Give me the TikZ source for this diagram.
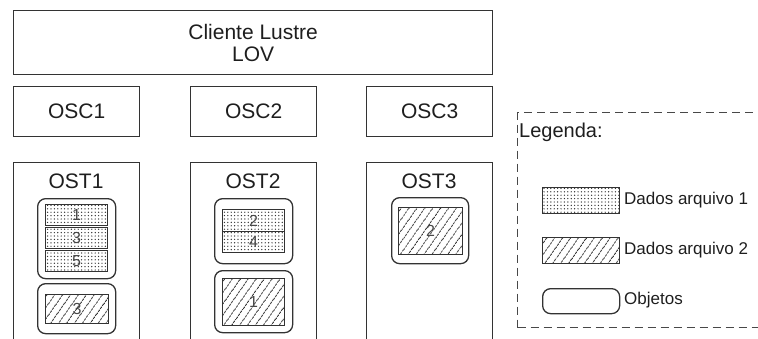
\documentclass[tikz,border=0pt]{standalone}
\usepackage{fontspec}
\setmainfont{Liberation Sans}
\usetikzlibrary{patterns.meta}
\definecolor{ln}{HTML}{333333}
\definecolor{tx}{HTML}{1E1E1E}
\definecolor{dg}{HTML}{484848}
\newcommand\bx[7]{\node[#2, anchor=north west, minimum width={(#5-#3)*1pt}, minimum height={(#6-#4)*1pt}] (#1) at (#3,#4) {#7};}
\begin{document}
\begin{tikzpicture}[x=1pt,y=-1pt,
  box/.style={draw=ln, line width=1.3pt, inner sep=0pt, text=tx, font=\fontsize{21}{22}\selectfont, align=center},
  obj/.style={draw=ln, line width=1.3pt, rounded corners=8pt, inner sep=0pt},
  dotbox/.style={draw=ln, line width=1.3pt, inner sep=0pt, text=dg, font=\fontsize{16}{16}\selectfont,
     pattern={Dots[distance=3.4pt, radius=0.7pt]}, pattern color=ln},
  hatchbox/.style={draw=ln, line width=1.3pt, inner sep=0pt, text=dg, font=\fontsize{16}{16}\selectfont,
     pattern={Lines[angle=55, distance=6.5pt, line width=1pt]}, pattern color=ln},
  lbl/.style={text=tx, inner sep=0pt, font=\fontsize{21}{22}\selectfont},
  leg/.style={text=tx, inner sep=0pt, anchor=west, font=\fontsize{17}{20}\selectfont},
  legt/.style={leg, font=\fontsize{20}{22}\selectfont},
  legbox/.style={draw=dg, line width=1pt, dash pattern=on 8pt off 5pt, inner sep=0pt}
]
\useasboundingbox (0,0) rectangle (758,338);
% client
\bx{lov}{box}{13}{10}{492}{74}{Cliente Lustre\\LOV}
% OSC
\bx{osc1}{box}{13}{86}{139}{136}{OSC1}
\bx{osc2}{box}{190}{86}{316}{136}{OSC2}
\bx{osc3}{box}{366}{86}{492}{136}{OSC3}
% OST
\bx{ost1}{box}{13}{162}{139}{360}{}
\bx{ost2}{box}{190}{162}{316}{360}{}
\bx{ost3}{box}{366}{162}{492}{360}{}
\node[lbl] (ost1l) at (76,181) {OST1};
\node[lbl] (ost2l) at (253,181) {OST2};
\node[lbl] (ost3l) at (429,181) {OST3};
% OST1 objects
\bx{o1a}{obj}{37}{198}{115}{278}{}
\bx{s11}{dotbox}{45}{204}{107}{225}{1}
\bx{s13}{dotbox}{45}{227}{107}{248}{3}
\bx{s15}{dotbox}{45}{250}{107}{271}{5}
\bx{o1b}{obj}{37}{283}{115}{333}{}
\bx{h13}{hatchbox}{45}{294}{108}{323}{3}
% OST2 objects
\bx{o2a}{obj}{214}{198}{292}{263}{}
\bx{s22}{dotbox}{222}{209}{284}{231}{2}
\bx{s24}{dotbox}{222}{231}{284}{252}{4}
\bx{o2b}{obj}{214}{270}{292}{332}{}
\bx{h21}{hatchbox}{222}{278}{284}{325}{1}
% OST3 objects
\bx{o3a}{obj}{391}{197}{468}{263}{}
\bx{h32}{hatchbox}{398}{207}{462}{254}{2}
% legend
\bx{legend}{legbox}{517}{112}{800}{327}{}
\node[legt] (legtt) at (519,132) {Legenda:};
\bx{ld}{dotbox}{542}{187}{619}{213}{}
\bx{lh}{hatchbox}{542}{237}{619}{263}{}
\bx{lo}{obj}{542}{288}{619}{313}{}
\node[leg] (ldt) at (624,200) {Dados arquivo 1};
\node[leg] (lht) at (624,250) {Dados arquivo 2};
\node[leg] (lot) at (624,300) {Objetos};
\end{tikzpicture}
\end{document}
